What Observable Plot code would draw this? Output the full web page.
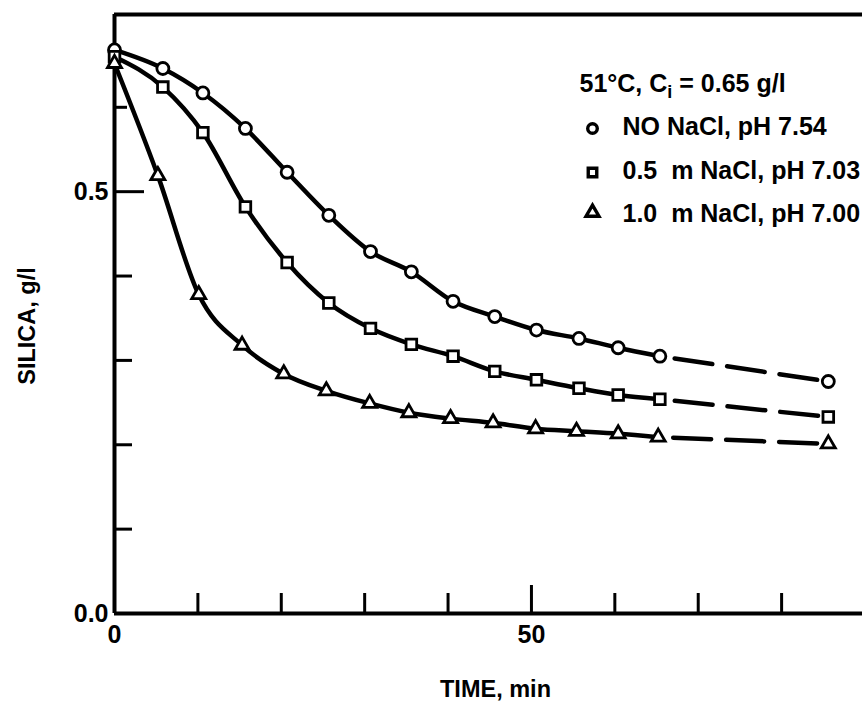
<!DOCTYPE html>
<html>
<head>
<meta charset="utf-8">
<script src="https://cdn.jsdelivr.net/npm/d3@7"></script>
<script src="https://cdn.jsdelivr.net/npm/@observablehq/plot@0.6"></script>
<style>
  html, body { margin: 0; padding: 0; background: #fff; }
  #chart svg { display: block; }
</style>
</head>
<body>
<div id="chart"></div>
<script>
// ---- data ----
const times    = [0, 5.8, 10.6, 15.7, 20.7, 25.7, 30.7, 35.6, 40.6, 45.6, 50.6, 55.7, 60.4, 65.4];
const timesTri = [0, 5.2, 10.1, 15.3, 20.3, 25.4, 30.6, 35.3, 40.3, 45.4, 50.5, 55.4, 60.4, 65.2];
const endTime = 85.6;

const noNaCl = [0.668, 0.646, 0.617, 0.575, 0.523, 0.472, 0.429, 0.405, 0.370, 0.352, 0.336, 0.326, 0.315, 0.305];
const noNaClEnd = 0.275;
const naCl05 = [0.660, 0.624, 0.570, 0.482, 0.416, 0.368, 0.338, 0.319, 0.305, 0.287, 0.277, 0.267, 0.259, 0.254];
const naCl05End = 0.233;
const naCl10 = [0.652, 0.519, 0.378, 0.318, 0.284, 0.264, 0.249, 0.238, 0.231, 0.226, 0.219, 0.216, 0.213, 0.209];
const naCl10End = 0.201;

const seriesLabels  = ["NO NaCl, pH 7.54", "0.5\u00a0 m NaCl, pH 7.03", "1.0\u00a0 m NaCl, pH 7.00"];
const seriesSymbols = ["circle", "square", "triangle"];
const legendTitle = "51°C, C_i = 0.65 g/l";

const xTicks = [10, 20, 30, 40, 60, 70, 80];
const xMajorTicks = [50];
const xTickLabels = [0, 50];
const yTicks = [0.1, 0.2, 0.3, 0.4];
const yShortTicks = [0.6];
const yMajorTicks = [0.5];
const yTickLabels = [0, 0.5];
const xTitle = "TIME, min";
const yTitle = "SILICA, g/l";

// ---- build tables ----
const seriesT = [times, times, timesTri];
const seriesV = [noNaCl, naCl05, naCl10];
const seriesEnd = [noNaClEnd, naCl05End, naCl10End];

const solid = [], dashed = [], pts = [[], [], []];
seriesV.forEach((vals, i) => {
  vals.forEach((v, j) => {
    const p = {t: seriesT[i][j], v, s: i};
    solid.push(p); pts[i].push(p);
  });
  const last = {t: seriesT[i][vals.length - 1], v: vals[vals.length - 1], s: i};
  const end = {t: endTime, v: seriesEnd[i], s: i};
  dashed.push(last, end);
  pts[i].push(end);
});

const W = 862, H = 703, ML = 114, MR = 0, MT = 14, MB = 90;
const frameW = W - ML - MR, frameH = H - MT - MB;

const legendRowsDy = [112, 156, 199];
const legendSymDy = [114, 158, 198];

const marks = [
  Plot.ruleX([0], {strokeWidth: 4}),
  Plot.ruleY([0, 0.71], {strokeWidth: 4}),
  Plot.tickX(xTicks, {x: d => d, insetTop: frameH - 20, strokeWidth: 3}),
  Plot.tickX(xMajorTicks, {x: d => d, insetTop: frameH - 28, strokeWidth: 3}),
  Plot.tickY(yTicks, {y: d => d, insetRight: frameW - 18, strokeWidth: 3}),
  Plot.tickY(yShortTicks, {y: d => d, insetRight: frameW - 13, strokeWidth: 3}),
  Plot.tickY(yMajorTicks, {y: d => d, insetRight: frameW - 30, strokeWidth: 3}),
  Plot.axisX(xTickLabels, {tickSize: 0, tickPadding: 12, tickFormat: d => String(d), label: null, fontSize: 25}),
  Plot.axisY(yTickLabels, {tickSize: 0, tickPadding: 6, tickFormat: d3.format(".1f"), label: null, fontSize: 25}),
  Plot.line(solid, {x: "t", y: "v", z: "s", curve: "monotone-x", strokeWidth: 4.5}),
  Plot.line(dashed, {x: "t", y: "v", z: "s", strokeWidth: 4.5, strokeDasharray: "38,15", strokeDashoffset: 38}),
  ...pts.map((p, i) => Plot.dot(p, {x: "t", y: "v", symbol: seriesSymbols[i], r: i === 2 ? 5.2 : 6, fill: "white", stroke: "black", strokeWidth: 2.8})),
  // legend
  Plot.text([legendTitle], {text: d => d, frameAnchor: "top-left", dx: 465, dy: 69, textAnchor: "start", lineAnchor: "middle", fontSize: 25}),
  ...seriesLabels.map((lab, i) => Plot.dot([lab], {frameAnchor: "top-left", dx: 478, dy: legendSymDy[i], symbol: seriesSymbols[i], r: 4.8, fill: "white", stroke: "black", strokeWidth: 3.4})),
  ...seriesLabels.map((lab, i) => Plot.text([lab], {text: d => d, frameAnchor: "top-left", dx: 508, dy: legendRowsDy[i], textAnchor: "start", lineAnchor: "middle", fontSize: 25})),
  // axis titles
  Plot.text([yTitle], {text: d => d, frameAnchor: "left", rotate: -90, dx: -87, dy: 12, textAnchor: "middle", lineAnchor: "middle", fontSize: 23.5}),
  Plot.text([xTitle], {text: d => d, frameAnchor: "bottom", dx: 7, dy: 76, textAnchor: "middle", lineAnchor: "middle", fontSize: 23.5})
];

const chart = Plot.plot({
  width: W, height: H,
  marginLeft: ML, marginRight: MR, marginTop: MT, marginBottom: MB,
  x: {domain: [0, 89.7]},
  y: {domain: [0, 0.71]},
  style: {fontFamily: "'Liberation Sans', Arial, Helvetica, sans-serif", fontSize: "25px", fontWeight: "bold", color: "black", background: "white", overflow: "visible"},
  marks
});

// subscript "i" in legend title
const ns = "http://www.w3.org/2000/svg";
chart.querySelectorAll("text").forEach(el => {
  if (el.textContent === legendTitle) {
    const [a, b] = legendTitle.split("_i");
    el.textContent = "";
    const t1 = document.createElementNS(ns, "tspan"); t1.textContent = a;
    const t2 = document.createElementNS(ns, "tspan"); t2.textContent = "i";
    t2.setAttribute("dy", "6"); t2.setAttribute("font-size", "18px");
    const t3 = document.createElementNS(ns, "tspan"); t3.textContent = b;
    t3.setAttribute("dy", "-6");
    el.append(t1, t2, t3);
  }
});

document.getElementById("chart").appendChild(chart);
</script>
</body>
</html>
